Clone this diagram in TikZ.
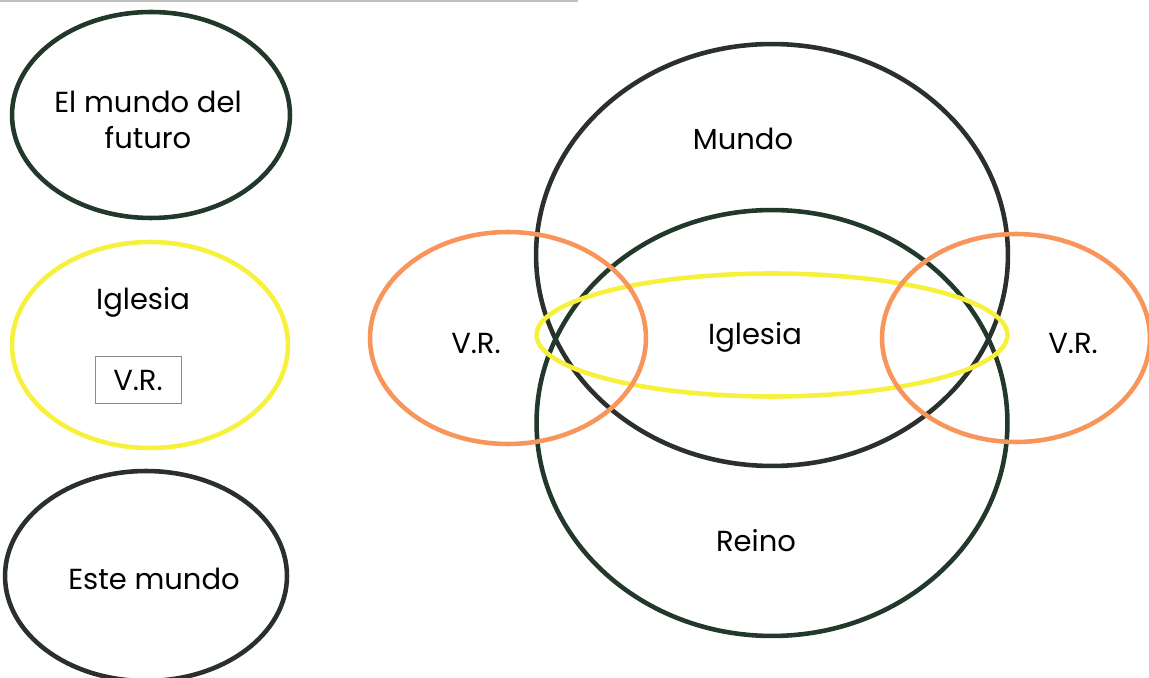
\documentclass[tikz,border=0pt]{standalone}
\usepackage{fontspec}
\setmainfont{Poppins}
\usetikzlibrary{shapes.geometric}
\definecolor{ringdark}{HTML}{2A302C}
\definecolor{ringgreen}{HTML}{22382A}
\definecolor{ringyellow}{HTML}{F7F03C}
\definecolor{ringorange}{HTML}{F7955A}
\begin{document}
\begin{tikzpicture}[x=0.02cm,y=-0.02cm]
    \tikzset{
    ring/.style={ellipse,draw,line width=2.6pt,inner sep=0pt},
    lbl/.style={font=\fontsize{16.5}{20.5}\selectfont,align=center},
    vrbox/.style={draw=black!45,line width=0.4pt,minimum width=1.72cm,minimum height=0.94cm,font=\fontsize{16.5}{20.5}\selectfont},
    }
    \useasboundingbox (0,0) rectangle (1149,678);
    \draw[black!25, line width=0.6pt] (0,1) -- (578,1);
    % left column
    \node[ring,draw=ringgreen,minimum width=5.56cm,minimum height=4.12cm] (futuro) at (151,115) {};
    \node[lbl] (futurotxt) at (148,120) {El mundo del\\futuro};
    \node[ring,draw=ringyellow,minimum width=5.52cm,minimum height=4.12cm] (iglesiaA) at (150,345) {};
    \node[lbl] (iglesiaAtxt) at (143,302) {Iglesia};
    \node[vrbox] (vrA) at (138,380) {V.R.};
    \node[ring,draw=ringdark,minimum width=5.64cm,minimum height=4.2cm] (este) at (146,576) {};
    \node[lbl] (estetxt) at (154,579) {Este mundo};
    % right diagram
    \node[ring,draw=ringdark,minimum width=9.44cm,minimum height=8.44cm] (mundo) at (772,255) {};
    \node[ring,draw=ringgreen,minimum width=9.42cm,minimum height=8.52cm] (reino) at (772,423) {};
    \node[ring,draw=ringyellow,minimum width=9.42cm,minimum height=2.46cm] (iglesiaB) at (772,335) {};
    \node[ring,draw=ringorange,minimum width=5.52cm,minimum height=4.24cm] (vrL) at (508,338) {};
    \node[ring,draw=ringorange,minimum width=5.36cm,minimum height=4.16cm] (vrR) at (1016,338) {};
    \node[lbl] (mundotxt) at (743,139) {Mundo};
    \node[lbl] (reinotxt) at (756,541) {Reino};
    \node[lbl] (iglesiaBtxt) at (755,337) {Iglesia};
    \node[lbl] (vrLtxt) at (476,343) {V.R.};
    \node[lbl] (vrRtxt) at (1073,343) {V.R.};
\end{tikzpicture}
\end{document}
